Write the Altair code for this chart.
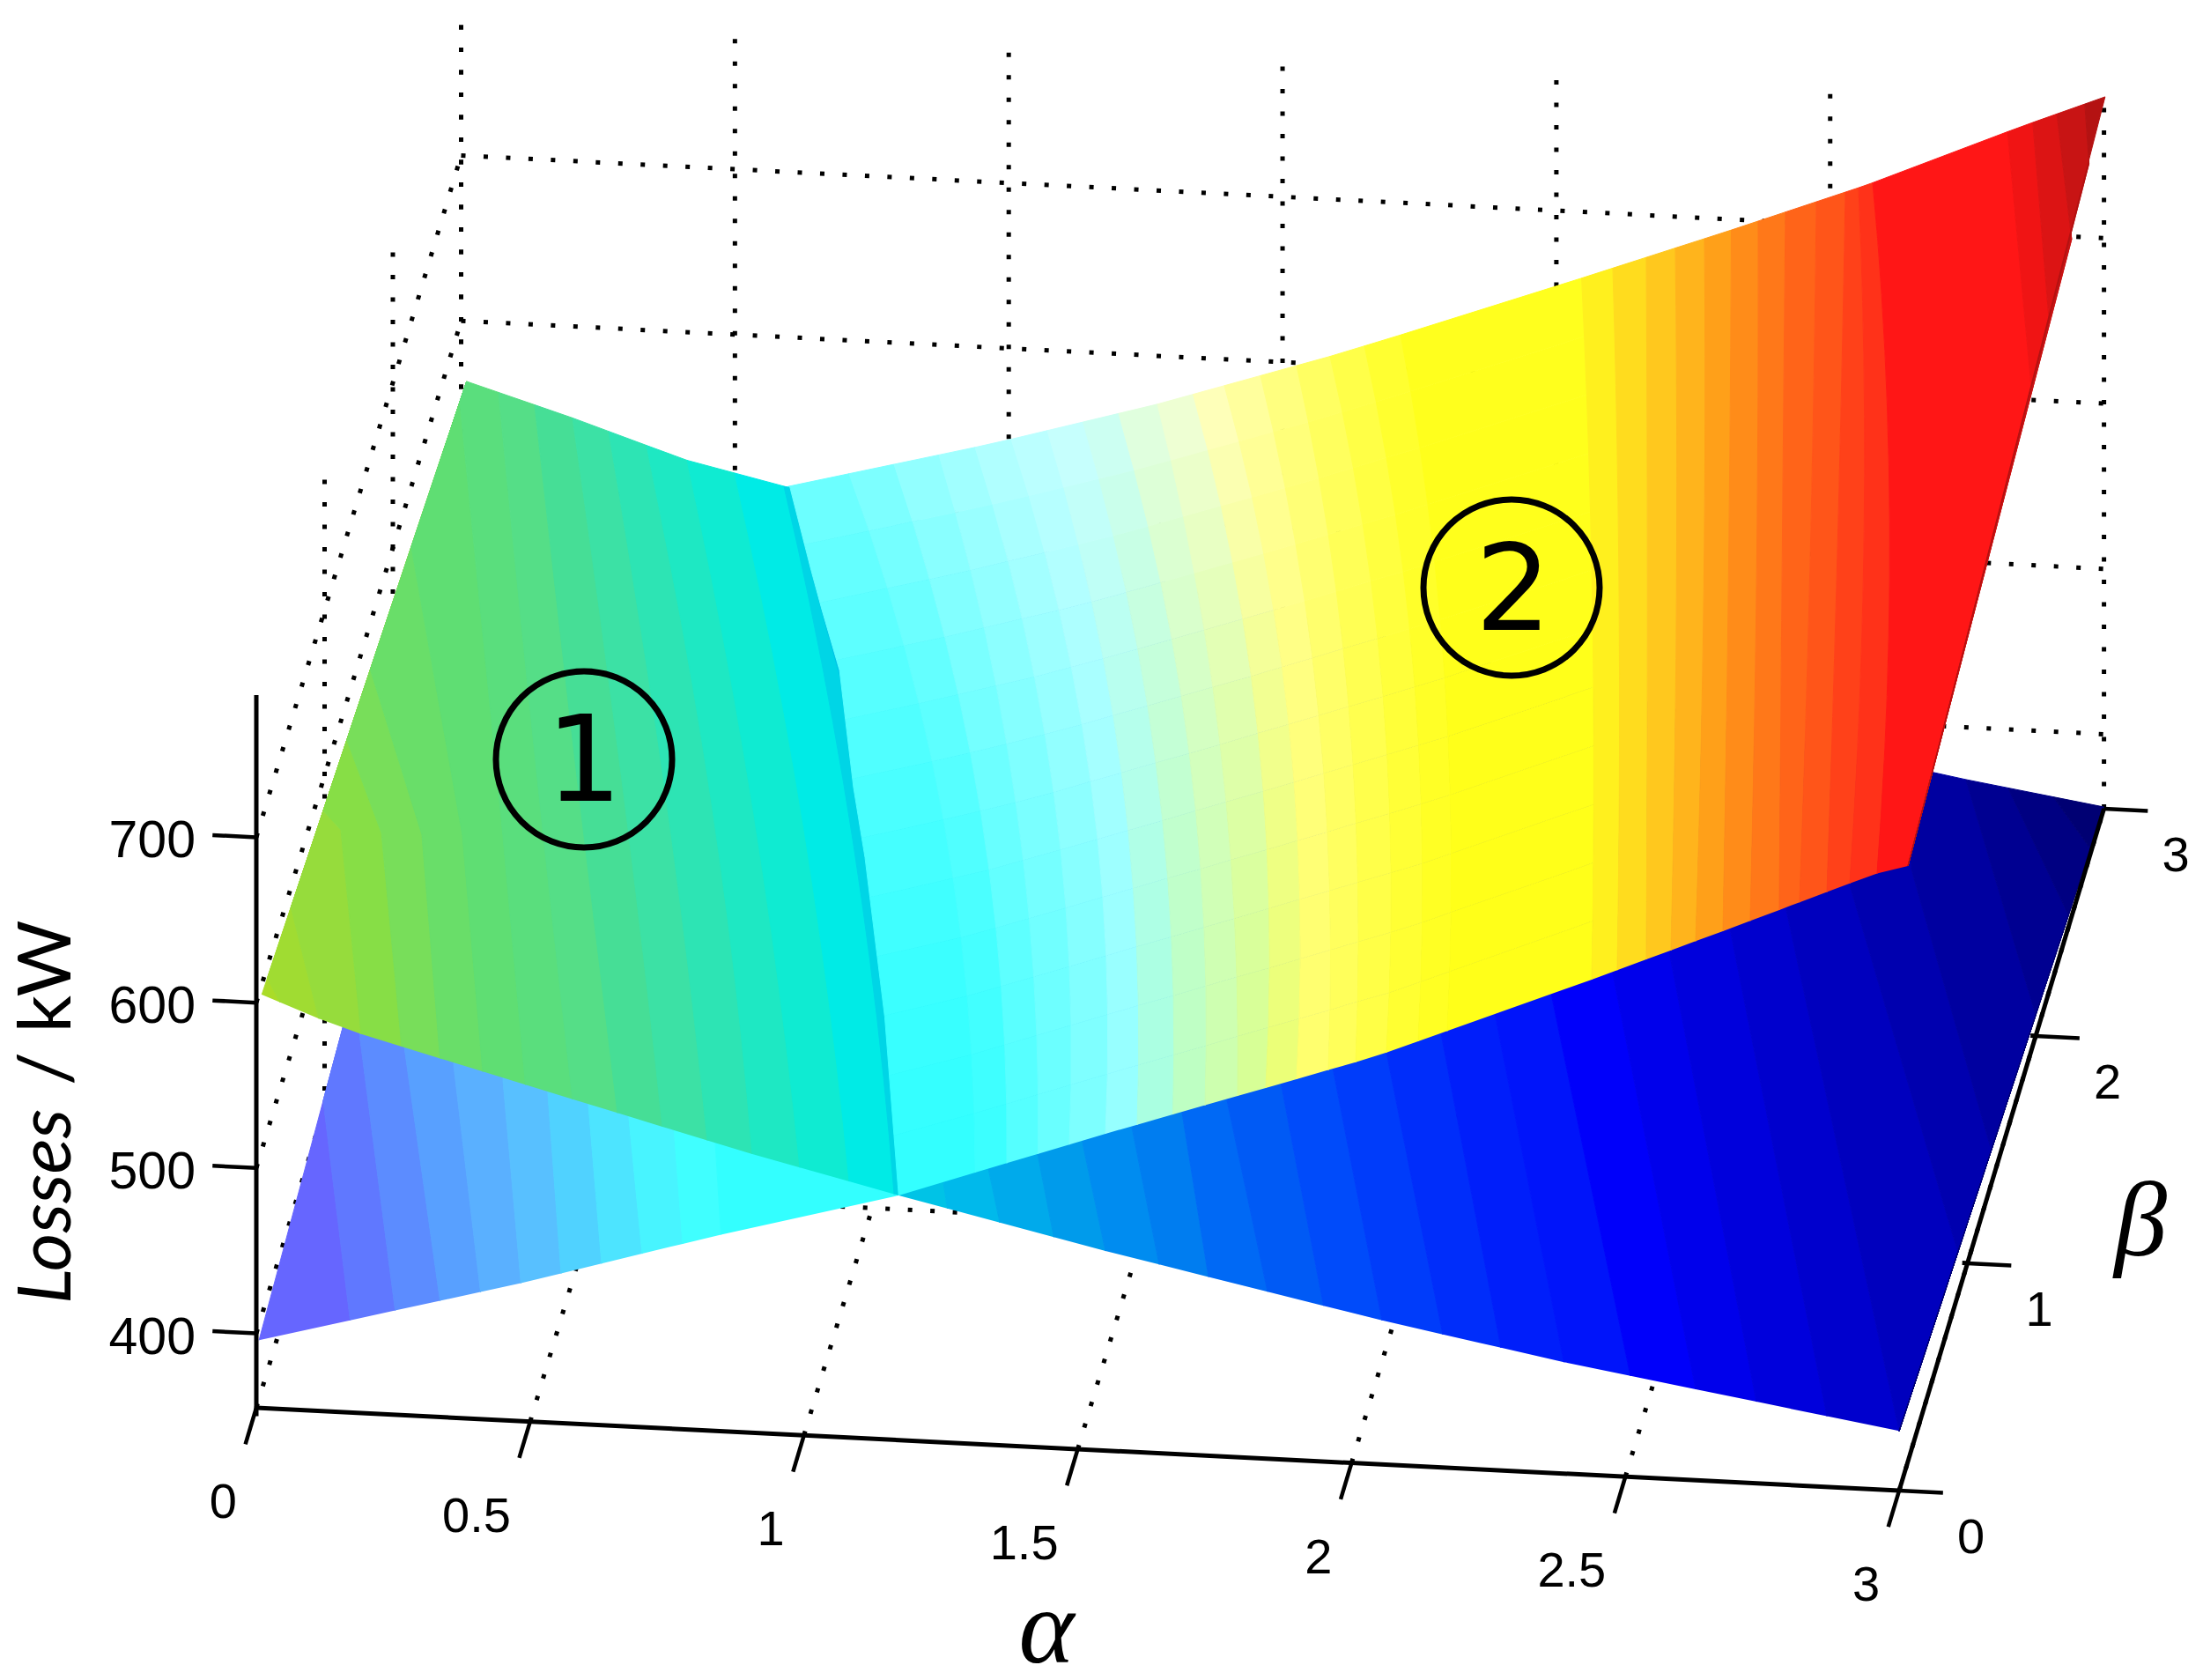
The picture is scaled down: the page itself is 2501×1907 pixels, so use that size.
import altair as alt
import numpy as np
import pandas as pd

# ---- axes of the 3-D box -------------------------------------------------
ALPHA_TICKS = [0, 0.5, 1, 1.5, 2, 2.5, 3]
ALPHA_LABELS = ["0", "0.5", "1", "1.5", "2", "2.5", "3"]
BETA_TICKS = [0, 1, 2, 3]
BETA_LABELS = ["0", "1", "2", "3"]
Z_TICKS = [400, 500, 600, 700]
Z_LABELS = ["400", "500", "600", "700"]
Z_MIN, Z_AXIS_TOP, Z_GRID_TOP = 355, 786, 780

# ---- the two loss surfaces: value along beta=0 and beta=3 ----------------
SURF1_A0 = [.01, .153, .573, .906, 1.173, 1.55, 2.076, 2.395, 3]
SURF1_Z0 = [605, 587.5, 551.6, 523.5, 503, 475.7, 440.8, 422, 391]
SURF1_A3 = [.01, .2, .41, .6, 2.684, 3]
SURF1_Z3 = [563.5, 545, 522.7, 509, 371.5, 356]
SURF2_A0 = [.005, .485, .8485, 1.173, 1.55, 2.039, 2.372, 2.678, 2.955, 3.016]
SURF2_Z0 = [396, 438.6, 473.9, 503, 546.5, 601, 645.4, 687.9, 727, 733]
SURF2_A3 = [0, .6, .971, 1.271, 1.591, 1.86, 2.315, 2.566, 2.847, 3.002]
SURF2_Z3 = [445, 510, 541.9, 570.7, 605.4, 637, 693, 724.8, 764.7, 785.5]

# line where the surfaces cross (beta, alpha)
RIDGE = [(0, 1.173), (.743, 1.055), (1.416, .935), (1.713, .877), (2.206, .79),
         (2.469, .725), (2.64, .684), (3, .6)]

# ---- colour-band edges, (beta, alpha) ------------------------------------
# surface 1, left of the crossing
S1_LEFT = [(0, .01), (3, .01)]
S1_UP = [
    [(0, .0434), (.08, .01), (3, .01)],
    [(0, .1142), (.427, .01), (3, .01)],
    [(0, .1914), (.848, .0487), (.9, .01), (3, .01)],
    [(0, .2654), (.904, .1158), (1.246, .01), (3, .01)],
    [(0, .3355), (.96, .1827), (1.59, .01), (3, .01)],
    [(0, .4134), (1.016, .2497), (2.19, .01), (3, .01)],
    [(0, .4914), (1.073, .3166), (2.9, .01), (3, .01)],
    [(0, .5774), (1.129, .3836), (3, .0684)],
    [(0, .6595), (1.185, .4507), (3, .1343)],
    [(0, .7415), (1.247, .5249), (3, .2035)],
    [(0, .8235), (1.306, .5948), (3, .2694)],
    [(0, .9056), (1.368, .669), (3, .3386)],
    [(0, .9925), (1.425, .736), (3, .4126)],
    [(0, 1.0825), (1.49, .8147), (3, .4994)],
    [(0, 1.1646), (1.555, .892), (3, .5895)],
]
S1_UP_COLORS = ["#AADC28", "#A0DC32", "#96DC3C", "#87DE46", "#78DE5A", "#69DE69",
                "#5FDE73", "#5ADE7D", "#55DE87", "#46DE96", "#3CE1A5", "#2DE4B4",
                "#1EE8C3", "#0FEBD2", "#00EBE6", "#00D5E6"]

# surface 1, right of the crossing (lower, blue part)
S1_LOW = [
    [(0, 1.2619), (.11, 1.2408), (3, .72)],
    [(0, 1.3576), (.217, 1.3103), (3, .80)],
    [(0, 1.4563), (.334, 1.386), (3, .88)],
    [(0, 1.5506), (.435, 1.4555), (3, .96)],
    [(0, 1.6487), (.558, 1.5305), (3, 1.04)],
    [(0, 1.7388), (.69, 1.6045), (3, 1.12)],
    [(0, 1.8466), (.79, 1.6744), (3, 1.22)],
    [(0, 1.9489), (.933, 1.7544), (3, 1.32)],
    [(0, 2.0557), (1.054, 1.8342), (3, 1.44)],
    [(0, 2.1666), (1.18, 1.9165), (3, 1.56)],
    [(0, 2.2728), (1.33, 1.997), (3, 1.68)],
    [(0, 2.3878), (1.47, 2.0782), (3, 1.80)],
    [(0, 2.5092), (1.624, 2.1613), (3, 1.92)],
    [(0, 2.6283), (1.785, 2.253), (3, 2.04)],
    [(0, 2.7393), (1.93, 2.339), (3, 2.14)],
    [(0, 2.868), (2.09, 2.4305), (3, 2.26)],
    [(0, 3), (2.23, 2.516), (3, 2.4)],
    [(0, 3), (.86, 3), (2.40, 2.612), (3, 2.55)],
    [(0, 3), (1.35, 3), (2.546, 2.705), (3, 2.64)],
    [(0, 3), (2, 3), (3, 2.748)],
    [(0, 3), (2.48, 3), (3, 2.825)],
    [(0, 3), (2.8, 3), (3, 2.9075)],
    [(0, 3), (3, 3)],
]
S1_LOW_COLORS = ["#00C3E6", "#00B9EB", "#00AAEB", "#009BEB", "#008CF0", "#007DF0",
                 "#0069F5", "#005AF5", "#004BFA", "#003CFA", "#002DFA", "#001EFA",
                 "#0014FA", "#0000FA", "#0000EB", "#0000DC", "#0000CD", "#0000BE",
                 "#0000AF", "#0000A0", "#000091", "#000082", "#000073"]

# surface 2, left of the crossing (lower, violet part)
S2_LEFT = [(0, .005), (3, .005)]
S2_LOW = [
    [(0, .1713), (.94, .005), (3, .005)],
    [(0, .2535), (1.186, .0404), (3, .005)],
    [(0, .3355), (1.086, .1348), (3, .02)],
    [(0, .4094), (.961, .2405), (3, .05)],
    [(0, .4832), (.847, .3449), (3, .1)],
    [(0, .5565), (.753, .4385), (3, .15)],
    [(0, .6305), (.664, .5237), (3, .2)],
    [(0, .7045), (.568, .6096), (3, .25)],
    [(0, .7785), (.4905, .7013), (3, .3)],
    [(0, .8485), (.398, .788), (3, .35)],
]
S2_LOW_COLORS = ["#6666FF", "#6078FF", "#5C8CFF", "#58A0FF", "#5AB0FF", "#58C0FF",
                 "#50D2FF", "#4DE4FF", "#48F4FF", "#40FFFF", "#33FFFF"]

# surface 2, right of the crossing: alpha of each band edge at beta 0, 1.5, 3
S2_A_FRONT = [1.3125, 1.3704, 1.4277, 1.4846, 1.5506, 1.6085, 1.6738, 1.7324, 1.7919, 1.8433,
              1.8996, 1.9575, 2.0074, 2.0637, 2.1216, 2.1747,
              2.4385, 2.4851, 2.5382, 2.5833, 2.6283, 2.6782, 2.7280, 2.7811, 2.8181, 2.8680,
              2.9098, 2.9596]
S2_A_MID = [1.0680, 1.1356, 1.1999, 1.2691, 1.3367, 1.3930, 1.4557, 1.5168, 1.5731, 1.6423,
            1.6986, 1.7533, 1.8080, 1.8707, 1.9286, 1.9833,
            2.2535, 2.3018, 2.3532, 2.4063, 2.4562, 2.5012, 2.5527, 2.5993, 2.6508, 2.7007,
            2.7489, 2.7956]
S2_A_BACK = [.7085, .7906, .8726, .9386, 1.0045, 1.0705, 1.1356, 1.2008, 1.2715, 1.3367,
             1.3938, 1.4597, 1.5257, 1.5868, 1.6495, 1.7155,
             2.0461, 2.1031, 2.1642, 2.2173, 2.2704, 2.3195, 2.3685, 2.4184, 2.4747, 2.5278,
             2.5519, 2.5777]
S2_DARK = [
    [(0, 3.016), (1.858, 3.01), (3, 2.824)],
    [(0, 3.016), (2.118, 3.01), (3, 2.87)],
    [(0, 3.016), (2.446, 3.01), (3, 2.914)],
    [(0, 3.016), (2.74, 3.005), (3, 2.965)],
    [(0, 3.016), (3, 3.002)],
]
# colour of each band at the beta=0 side and the beta=3 side
S2_COL_FRONT = ["#33FFFF", "#3CFFFF", "#55FFFF", "#69FFFF", "#7DFFFF", "#96FFFF", "#AAFFE1",
                "#BEFFC3", "#CDFFAF", "#D7FF96", "#EBFF78", "#FFFF6E", "#FFFF5A", "#FFFF46",
                "#FFFF32", "#FFFF23", "#FFFF19",
                "#FFF01E", "#FFDC1E", "#FFC81E", "#FFB41C", "#FFA019", "#FF8C19", "#FF7819",
                "#FF6419", "#FF5519", "#FF4119", "#FF3219",
                "#FF1616", "#F01414", "#DC1414", "#C81414", "#B41212"]
S2_COL_BACK = ["#70FFFF", "#82FFFF", "#96FFFF", "#A5FFFF", "#B4FFFF", "#BEFFFF", "#C8FFFF",
               "#CDFFF5", "#E1FFE1", "#F0FFD7", "#FFFFBE", "#FFFFA0", "#FFFF82", "#FFFF64",
               "#FFFF4B", "#FFFF32", "#FFFF1E",
               "#FFF01E", "#FFDC1E", "#FFC81E", "#FFB41C", "#FFA019", "#FF8C19", "#FF7819",
               "#FF6419", "#FF5519", "#FF4119", "#FF3219",
               "#FF1616", "#F01414", "#DC1414", "#C81414", "#B41212"]

# ---- labels --------------------------------------------------------------
Z_TITLE_A, Z_TITLE_B = "Losses", "/ kW"
ALPHA_TITLE, BETA_TITLE = "α", "β"
REGION_NAMES = ["1", "2"]


# ---- oblique projection of the 3-D box onto the page ---------------------
def proj(a, b, z):
    return (291 + 621.7 * a + 77.5 * b,
            1598 + 31.3 * a - 258 * b - 1.877 * (z - Z_MIN))


def z1(a, b):
    t = b / 3
    return (1 - t) * np.interp(a, SURF1_A0, SURF1_Z0) + t * np.interp(a, SURF1_A3, SURF1_Z3)


def z2(a, b):
    t = b / 3
    return (1 - t) * np.interp(a, SURF2_A0, SURF2_Z0) + t * np.interp(a, SURF2_A3, SURF2_Z3)


CURVED = {}  # edges that bend smoothly through their three read points


def along(edge, b):
    bs = [p[0] for p in edge]
    vals = [p[1] for p in edge]
    if id(edge) in CURVED:
        return float(np.polyval(np.polyfit(bs, vals, 2), b))
    return float(np.interp(b, bs, vals))


def hex2rgb(h):
    return np.array([int(h[i:i + 2], 16) for i in (1, 3, 5)], float)


def mix(c0, c1, t):
    v = hex2rgb(c0) * (1 - t) + hex2rgb(c1) * t
    return "#%02X%02X%02X" % tuple(int(round(x)) for x in v)


poly_id = [0]
FINE = np.linspace(0, 3, 13)


def stops(edge, b0, b1):
    s = {b0, b1}
    if id(edge) in CURVED:
        s |= {float(g) for g in FINE if b0 < g < b1}
    else:
        s |= {p[0] for p in edge if b0 < p[0] < b1}
    return sorted(s)


def band(rows, left, right, zf, c0, c1=None):
    """One colour band between two edges; split along beta if its colour drifts."""
    if c1 is None or c1 == c0:
        spans = [(0, 3, c0)]
    else:
        spans = [(FINE[i], FINE[i + 1], mix(c0, c1, ((FINE[i] + FINE[i + 1]) / 6) ** 1.6))
                 for i in range(12)]
    for b0, b1, col in spans:
        pts = [(b, along(left, b)) for b in stops(left, b0, b1)] + \
              [(b, along(right, b)) for b in reversed(stops(right, b0, b1))]
        poly_id[0] += 1
        for s, (b, a) in enumerate(pts):
            x, y = proj(a, b, zf(a, b))
            rows.append(dict(poly=poly_id[0], seq=s, x=x, y=y, color=col))


for e in S1_UP[7:]:
    CURVED[id(e)] = True
s2_edges = [[(0, f), (1.5, m), (3, k)] for f, m, k in zip(S2_A_FRONT, S2_A_MID, S2_A_BACK)]
for e in s2_edges:
    CURVED[id(e)] = True

lower, upper = [], []

# lower envelope
edges = [S2_LEFT] + S2_LOW + [RIDGE]
for i, c in enumerate(S2_LOW_COLORS):
    band(lower, edges[i], edges[i + 1], z2, c)
edges = [RIDGE] + S1_LOW
for i, c in enumerate(S1_LOW_COLORS):
    band(lower, edges[i], edges[i + 1], z1, c)

# upper envelope
edges = [S1_LEFT] + S1_UP + [RIDGE]
for i, c in enumerate(S1_UP_COLORS):
    band(upper, edges[i], edges[i + 1], z1, c)
edges = [RIDGE] + s2_edges + S2_DARK
for i in range(len(edges) - 1):
    band(upper, edges[i], edges[i + 1], z2, S2_COL_FRONT[i], S2_COL_BACK[i])

# ---- chart helpers -------------------------------------------------------
W, H = 2485, 1891
xs = alt.Scale(domain=[8, 8 + W], nice=False, zero=False)
ys = alt.Scale(domain=[8 + H, 8], nice=False, zero=False)
X = alt.X("x:Q", scale=xs, axis=None)
Y = alt.Y("y:Q", scale=ys, axis=None)


def surface(rows):
    return alt.Chart(pd.DataFrame(rows)).mark_line(strokeWidth=1, interpolate="linear").encode(
        x=X, y=Y, order=alt.Order("seq:Q"), detail="poly:N",
        fill=alt.Fill("color:N", scale=None), stroke=alt.Stroke("color:N", scale=None))


def lines(segments, **style):
    rows = []
    for i, seg in enumerate(segments):
        for s, p in enumerate(seg):
            x, y = proj(*p)
            rows.append(dict(line=i, seq=s, x=x, y=y))
    return alt.Chart(pd.DataFrame(rows)).mark_line(color="black", **style).encode(
        x=X, y=Y, order=alt.Order("seq:Q"), detail="line:N")


def text(rows, **style):
    return alt.Chart(pd.DataFrame(rows)).mark_text(color="black", **style).encode(
        x=X, y=Y, text="t:N")


# dotted box grid
grid = []
for a in ALPHA_TICKS:
    grid.append([(a, 0, Z_MIN), (a, 3, Z_MIN)])
    grid.append([(a, 3, Z_MIN), (a, 3, Z_GRID_TOP)])
for b in BETA_TICKS[1:]:
    grid.append([(0, b, Z_MIN), (3, b, Z_MIN)])
    grid.append([(0, b, Z_MIN), (0, b, Z_GRID_TOP)])
for z in Z_TICKS:
    grid.append([(0, 0, z), (0, 3, z)])
    grid.append([(0, 3, z), (3, 3, z)])
grid_layer = lines(grid, strokeWidth=5, strokeDash=[5, 20.5])

# solid axes and ticks
z_axis = lines([[(0, 0, Z_MIN - 5), (0, 0, Z_AXIS_TOP)]], strokeWidth=5)
a_axis = lines([[(0, 0, Z_MIN), (3, 0, Z_MIN)]], strokeWidth=5)
b_axis = lines([[(3, 0, Z_MIN), (3, 3, Z_MIN)]], strokeWidth=5)
ticks = lines([[(a, 0, Z_MIN), (a, -.16, Z_MIN)] for a in ALPHA_TICKS] +
              [[(3, b, Z_MIN), (3.08, b, Z_MIN)] for b in BETA_TICKS] +
              [[(0, 0, z), (-.08, 0, z)] for z in Z_TICKS], strokeWidth=4.5)

# tick labels
num = dict(font="Liberation Sans", baseline="middle")
a_rows = [dict(t=t, x=proj(a, 0, Z_MIN)[0] - 22, y=proj(a, 0, Z_MIN)[1] + 108)
          for a, t in zip(ALPHA_TICKS, ALPHA_LABELS)]
b_rows = [dict(t=t, x=proj(3, b, Z_MIN)[0] + 66, y=proj(3, b, Z_MIN)[1] + 54)
          for b, t in zip(BETA_TICKS, BETA_LABELS)]
z_rows = [dict(t=t, x=proj(0, 0, z)[0] - 69, y=proj(0, 0, z)[1] + 5)
          for z, t in zip(Z_TICKS, Z_LABELS)]
a_text = text(a_rows, align="right", fontSize=56, **num)
b_text = text(b_rows, align="left", fontSize=56, **num)
z_text = text(z_rows, align="right", fontSize=59, **num)

# axis titles
t1 = text([dict(t=Z_TITLE_A, x=80, y=1480)], font="Lato", fontSize=84, fontStyle="italic",
          angle=270, align="left", baseline="alphabetic")
t2 = text([dict(t=Z_TITLE_B, x=80, y=1232)], font="Lato", fontSize=84,
          angle=270, align="left", baseline="alphabetic")
t3 = text([dict(t=ALPHA_TITLE, x=1188, y=1887)], font="Liberation Serif", fontSize=120,
          fontStyle="italic", align="center", baseline="alphabetic")
t4 = text([dict(t=BETA_TITLE, x=2430, y=1425)], font="Liberation Serif", fontSize=120,
          fontStyle="italic", align="center", baseline="alphabetic")

# region markers
rings = alt.Chart(pd.DataFrame([dict(x=663, y=862), dict(x=1716, y=667)])).mark_point(
    shape="circle", size=40000, filled=False, color="black", strokeWidth=7, opacity=1).encode(x=X, y=Y)
digits = text([dict(t=REGION_NAMES[0], x=663, y=909), dict(t=REGION_NAMES[1], x=1718, y=715)],
              font="DejaVu Sans", fontSize=136, align="center", baseline="alphabetic")

chart = alt.layer(
    grid_layer, surface(lower), surface(upper),
    z_axis, a_axis, b_axis, ticks,
    a_text, b_text, z_text, t1, t2, t3, t4, rings, digits,
).properties(
    width=W, height=H, padding=0, background="white",
    autosize=alt.AutoSizeParams(type="none"),
).configure_view(stroke=None)

chart.save("out.html", embed_options={"renderer": "svg", "actions": False})
